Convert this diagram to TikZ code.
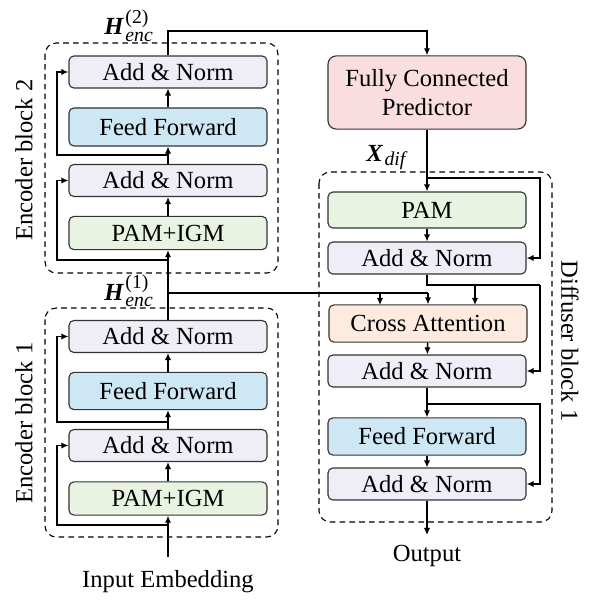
\documentclass[tikz,border=0pt]{standalone}
\usepackage{fontspec}
\setmainfont{Liberation Serif}
\usetikzlibrary{arrows.meta}

\definecolor{normcol}{RGB}{239,237,245}
\definecolor{ffcol}{RGB}{206,231,245}
\definecolor{pamcol}{RGB}{233,243,226}
\definecolor{predcol}{RGB}{250,221,223}
\definecolor{crosscol}{RGB}{252,235,222}

\newcommand{\bigtext}{\fontsize{17.5}{20}\selectfont}
\newcommand{\scripttext}{\fontsize{14}{16}\selectfont}

\tikzset{
	layer/.style={draw=black!80, rounded corners=3.5pt, line width=0.8pt, minimum width=4.95cm, inner sep=0pt, font=\bigtext},
	addnorm/.style={layer, fill=normcol, minimum height=0.8cm},
	feedfwd/.style={layer, fill=ffcol, minimum height=0.93cm},
	pamlayer/.style={layer, fill=pamcol, minimum height=0.83cm},
	flow/.style={-{Latex[length=5pt,width=4.5pt]}, line width=1.1pt},
	wire/.style={line width=1.1pt},
	frame/.style={dash pattern=on 4pt off 3pt, rounded corners=8pt, line width=0.8pt},
	txt/.style={font=\bigtext, inner sep=0pt}
}

\begin{document}
\begin{tikzpicture}[x=0.025cm, y=-0.025cm]
	\useasboundingbox (0,0) rectangle (598,609);
	
	% Define the encoder block 1
	\node[pamlayer] (pam1) at (168,498.5) {PAM+IGM};
	\node[addnorm] (an11) at (168,445.5) {Add \& Norm};
	\node[feedfwd] (ff1) at (168,391) {Feed Forward};
	\node[addnorm] (an12) at (168,336.5) {Add \& Norm};
	
	% Define the encoder block 2
	\node[pamlayer] (pam2) at (168,233) {PAM+IGM};
	\node[addnorm] (an21) at (168,180.5) {Add \& Norm};
	\node[feedfwd, minimum height=0.95cm] (ff2) at (168,127) {Feed Forward};
	\node[addnorm] (an22) at (168,72) {Add \& Norm};
	
	% Define the predictor and the diffuser block
	\node[layer, fill=predcol, minimum height=1.83cm, rounded corners=6pt, align=center] (pred) at (427,92.5) {Fully Connected\\[1pt]Predictor};
	\node[pamlayer, minimum height=0.9cm] (dpam) at (427,210) {PAM};
	\node[addnorm] (dan1) at (427,258) {Add \& Norm};
	\node[layer, fill=crosscol, minimum height=0.93cm] (ca) at (428,323.5) {Cross Attention};
	\node[addnorm] (dan2) at (427,371) {Add \& Norm};
	\node[feedfwd] (dff) at (427,436.5) {Feed Forward};
	\node[addnorm] (dan3) at (427,484) {Add \& Norm};
	
	% Define the free ends and the bends
	\coordinate (in) at (168,557);
	\coordinate (out) at (427,535);
	\coordinate (h1) at (168,293);
	\coordinate (h2) at (168,31);
	\coordinate (xd) at (427,178);
	\coordinate (d1) at (427,285);
	\coordinate (d2) at (427,404);
	
	% Draw the dashed blocks
	\draw[frame] (45,43) rectangle (278,273);
	\draw[frame] (45,308) rectangle (278,537);
	\draw[frame] (319,172) rectangle (552,522);
	
	% Draw the labels
	\node[txt, rotate=90] (lab2) at (24,160) {Encoder block 2};
	\node[txt, rotate=90] (lab1) at (24,423) {Encoder block 1};
	\node[txt, rotate=-90] (lab3) at (570,341) {Diffuser block 1};
	\node[txt] (inlab) at (168,582) {Input Embedding};
	\node[txt] (outlab) at (427,556) {Output};
	\node[txt, anchor=base west] (hlab2) at (104,35) {\textbf{\textit{H}}\kern1pt\makebox[0pt][l]{\raisebox{0.46em}{\scripttext(2)}}\raisebox{-0.28em}{\scripttext\textit{enc}}};
	\node[txt, anchor=base west] (hlab1) at (104,300) {\textbf{\textit{H}}\kern1pt\makebox[0pt][l]{\raisebox{0.46em}{\scripttext(1)}}\raisebox{-0.28em}{\scripttext\textit{enc}}};
	\node[txt, anchor=base west] (xlab) at (366,162) {\textbf{\textit{X}}\kern1pt\raisebox{-0.14em}{\scripttext\textit{dif}}};
	
	% Draw the encoder block 1
	\draw[flow] (in) -- (pam1);
	\draw[flow] (pam1) -- (an11);
	\draw[flow] (an11) -- (ff1);
	\draw[flow] (ff1) -- (an12);
	\draw[flow] (168,525) -- (57,525) |- (an11.west);
	\draw[flow] (168,422) -- (57,422) |- (an12.west);
	
	% Draw the encoder block 2
	\draw[flow] (an12) -- (pam2);
	\draw[flow] (pam2) -- (an21);
	\draw[flow] (an21) -- (ff2);
	\draw[flow] (ff2) -- (an22);
	\draw[flow] (168,260) -- (57,260) |- (an21.west);
	\draw[flow] (168,155) -- (57,155) |- (an22.west);
	
	% Draw the encoder outputs
	\draw[flow] (an22.north) -- (h2) -| (pred.north);
	\draw[wire] (h1) -- (428,293);
	\draw[flow] (380,293) -- (380,305);
	\draw[flow] (428,293) -- (ca.north);
	
	% Draw the diffuser block
	\draw[flow] (pred) -- (dpam);
	\draw[flow] (dpam) -- (dan1);
	\draw[flow] (xd) -- (540,178) |- (dan1.east);
	\draw[wire] (dan1.south) -- (d1) -- (540,285);
	\draw[flow] (540,285) |- (dan2.east);
	\draw[flow] (475,285) -- (475,305);
	\draw[flow] (ca) -- (dan2);
	\draw[flow] (dan2) -- (dff);
	\draw[flow] (d2) -- (540,404) |- (dan3.east);
	\draw[flow] (dff) -- (dan3);
	\draw[flow] (dan3) -- (out);
\end{tikzpicture}
\end{document}
